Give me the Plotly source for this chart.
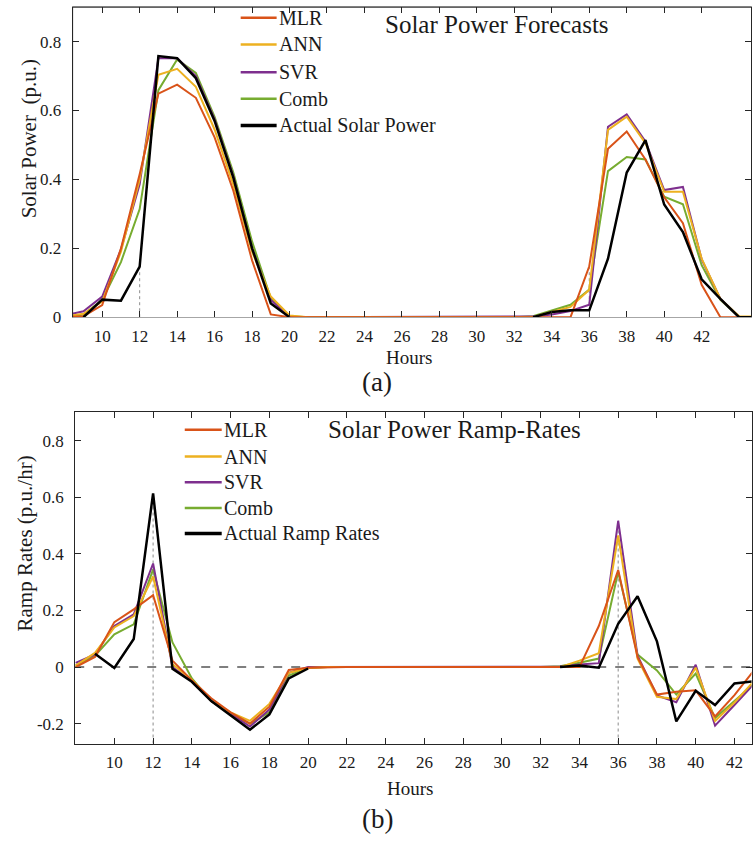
import plotly.graph_objects as go

# ---------------- data ----------------
hours_power = list(range(8, 46))          # 8 .. 45
hours_ramp = list(range(8, 44))           # 8 .. 43
Z13 = [0.0] * 13

series_names = ["MLR", "ANN", "SVR", "Comb"]
series_colors = ["#D95319", "#EDB120", "#7E2F8E", "#77AC30"]

# Solar power forecasts (p.u.), hours 8..45
mlr_power = [0.0, 0.003, 0.035, 0.199, 0.415, 0.649, 0.675, 0.637, 0.522, 0.367, 0.165, 0.008, 0.0] \
    + Z13[:14 - 1] + [0.0, 0.0, 0.148, 0.489, 0.539, 0.458, 0.348, 0.273, 0.094, 0.0, 0.0, 0.0]
ann_power = [0.002, 0.01, 0.045, 0.19, 0.40, 0.704, 0.721, 0.669, 0.545, 0.385, 0.19, 0.06, 0.005] \
    + Z13[:13 - 1] + [0.0, 0.015, 0.03, 0.08, 0.544, 0.582, 0.505, 0.364, 0.364, 0.17, 0.053, 0.003, 0.002]
svr_power = [0.006, 0.017, 0.06, 0.197, 0.386, 0.752, 0.752, 0.70, 0.575, 0.41, 0.20, 0.05, 0.0] \
    + Z13[:13 - 1] + [0.002, 0.008, 0.018, 0.036, 0.553, 0.589, 0.51, 0.369, 0.378, 0.168, 0.053, 0.0, 0.0]
comb_power = [0.0, 0.008, 0.05, 0.16, 0.314, 0.659, 0.748, 0.709, 0.582, 0.42, 0.22, 0.055, 0.003] \
    + Z13[:13 - 1] + [0.003, 0.02, 0.036, 0.08, 0.424, 0.465, 0.458, 0.35, 0.328, 0.151, 0.05, 0.0, 0.0]
actual_power = [None, 0.0, 0.051, 0.048, 0.147, 0.758, 0.752, 0.694, 0.57, 0.405, 0.20, 0.04, 0.0] \
    + [None] * 12 + [0.0, 0.015, 0.02, 0.02, 0.17, 0.42, 0.514, 0.327, 0.247, 0.11, 0.053, 0.0, 0.0]

# Solar power ramp rates (p.u./hr), hours 8..43
mlr_ramp = [0.0, 0.036, 0.159, 0.204, 0.254, 0.023, -0.047, -0.11, -0.16, -0.20, -0.14, -0.01, -0.002] \
    + Z13[:14 - 1] + [0.0, 0.145, 0.343, 0.035, -0.097, -0.087, -0.082, -0.174, -0.099, -0.012]
ann_ramp = [0.005, 0.05, 0.14, 0.18, 0.32, 0.01, -0.045, -0.12, -0.16, -0.19, -0.13, -0.02, -0.003] \
    + Z13[:14 - 1] + [0.023, 0.049, 0.465, 0.03, -0.105, -0.113, -0.002, -0.19, -0.125, -0.05]
svr_ramp = [0.015, 0.045, 0.145, 0.186, 0.366, 0.0, -0.05, -0.12, -0.165, -0.21, -0.15, -0.02, 0.0] \
    + Z13[:13 - 1] + [0.002, 0.009, 0.014, 0.517, 0.04, -0.10, -0.124, 0.008, -0.207, -0.134, -0.06]
comb_ramp = [0.005, 0.04, 0.116, 0.151, 0.345, 0.087, -0.04, -0.12, -0.165, -0.20, -0.16, -0.03, -0.003] \
    + Z13[:13 - 1] + [0.003, 0.015, 0.03, 0.337, 0.044, -0.012, -0.097, -0.023, -0.18, -0.12, -0.06]
actual_ramp = [None, 0.047, -0.003, 0.099, 0.614, -0.006, -0.052, -0.12, -0.17, -0.221, -0.167, -0.04, -0.005] \
    + [None] * 12 + [0.0, 0.006, -0.002, 0.153, 0.25, 0.091, -0.192, -0.084, -0.134, -0.058, -0.05]

x_ticks = list(range(10, 43, 2))
power_ticks = [0, 0.2, 0.4, 0.6, 0.8]
power_tick_text = ["0", "0.2", "0.4", "0.6", "0.8"]
ramp_ticks = [-0.2, 0, 0.2, 0.4, 0.6, 0.8]
ramp_tick_text = ["-0.2", "0", "0.2", "0.4", "0.6", "0.8"]
marked_hours = [12, 36]

# ---------------- figure ----------------
W, H = 753, 845
FONT = "Liberation Serif, Times New Roman, Times, serif"
TXT = "#1a1a1a"


def px(x):
    return x / W


def py(y):
    return 1 - y / H


fig = go.Figure()

power_sets = [mlr_power, ann_power, svr_power, comb_power]
ramp_sets = [mlr_ramp, ann_ramp, svr_ramp, comb_ramp]
draw_order = [3, 2, 1, 0]  # Comb, SVR, ANN, MLR, then actual on top

for i in draw_order:
    fig.add_trace(go.Scatter(x=hours_power, y=power_sets[i], mode="lines", name=series_names[i],
                             line=dict(color=series_colors[i], width=2), xaxis="x", yaxis="y",
                             showlegend=False))
fig.add_trace(go.Scatter(x=hours_power, y=actual_power, mode="lines", name="Actual Solar Power",
                         line=dict(color="black", width=2.5), xaxis="x", yaxis="y", showlegend=False))

for i in draw_order:
    fig.add_trace(go.Scatter(x=hours_ramp, y=ramp_sets[i], mode="lines", name=series_names[i],
                             line=dict(color=series_colors[i], width=2), xaxis="x2", yaxis="y2",
                             showlegend=False))
fig.add_trace(go.Scatter(x=hours_ramp, y=actual_ramp, mode="lines", name="Actual Ramp Rates",
                         line=dict(color="black", width=2.5), xaxis="x2", yaxis="y2", showlegend=False))

shapes = []
annotations = []


# dotted stems at the marked hours: actual value at the first, largest forecast at the second
def stem_tops(sets, actual, hours):
    tops = []
    for k, h in enumerate(marked_hours):
        idx = hours.index(h)
        if k == 0:
            tops.append(actual[idx])
        else:
            tops.append(max(s[idx] for s in sets))
    return tops


for xr, yr, sets, act, hrs, ybot in [("x", "y", power_sets, actual_power, hours_power, 0.0),
                                     ("x2", "y2", ramp_sets, actual_ramp, hours_ramp, -0.27)]:
    for h, top in zip(marked_hours, stem_tops(sets, act, hrs)):
        shapes.append(dict(type="line", xref=xr, yref=yr, x0=h, x1=h, y0=ybot, y1=top,
                           line=dict(color="#8c8c8c", width=1, dash="dot"), layer="below"))

# dashed zero reference in the ramp panel
shapes.append(dict(type="line", xref="x2 domain", yref="y2", x0=0, x1=1, y0=0, y1=0,
                   line=dict(color="#555555", width=1.5, dash="dash"), layer="below"))
# top and left border of the power panel (its bottom edge is drawn light gray)
shapes.append(dict(type="line", xref="x domain", yref="y domain", x0=0, x1=1, y0=1, y1=1,
                   line=dict(color="#262626", width=1), layer="above"))
shapes.append(dict(type="line", xref="x domain", yref="y domain", x0=0, x1=0, y0=0, y1=1,
                   line=dict(color="#262626", width=1), layer="above"))


# legends
def add_legend(x_line0, x_line1, x_text, y_rows, labels):
    colors = series_colors + ["black"]
    for lab, col, yy in zip(labels, colors, y_rows):
        shapes.append(dict(type="line", xref="paper", yref="paper", x0=px(x_line0), x1=px(x_line1),
                           y0=py(yy), y1=py(yy),
                           line=dict(color=col, width=3.5 if col == "black" else 2.5)))
        annotations.append(dict(text=lab, xref="paper", yref="paper", x=px(x_text), y=py(yy),
                                xanchor="left", yanchor="middle", showarrow=False,
                                font=dict(family=FONT, size=20, color=TXT)))


add_legend(241, 277, 277, [18, 45, 73, 100, 127], series_names + ["Actual Solar Power"])
add_legend(185, 222, 222, [435, 462, 488, 514, 540], series_names + ["Actual Ramp Rates"])


def add_text(text, x, y, size, angle=0):
    annotations.append(dict(text=text, xref="paper", yref="paper", x=px(x), y=py(y),
                            xanchor="center", yanchor="middle", showarrow=False, textangle=angle,
                            font=dict(family=FONT, size=size, color=TXT)))


add_text("Solar Power Forecasts", 498, 25, 25)
add_text("Solar Power Ramp-Rates", 455, 435, 25)
add_text("Hours", 410, 362, 19)
add_text("Hours", 411, 798, 19)
add_text("(a)", 378, 387, 27)
add_text("(b)", 378, 829, 27)
add_text("Solar Power  (p.u.)", 29, 140, 21, -90)
add_text("Ramp Rates (p.u./hr)", 26, 550, 21, -90)

tick_font = dict(family=FONT, size=17, color=TXT)
common_x = dict(tickmode="array", tickvals=x_ticks, ticks="inside", ticklen=6, tickcolor="#262626",
                showgrid=False, zeroline=False, showline=True, mirror="ticks",
                tickfont=tick_font, ticklabelstandoff=3)
common_y = dict(ticks="inside", ticklen=6, tickcolor="#262626", showgrid=False, zeroline=False,
                showline=True, mirror="ticks", linecolor="#262626", tickfont=tick_font,
                ticklabelstandoff=7)

fig.update_layout(
    width=W, height=H,
    margin=dict(l=0, r=0, t=0, b=0),
    paper_bgcolor="white", plot_bgcolor="white",
    showlegend=False,
    xaxis=dict(domain=[px(72.7), px(752.3)], range=[8.42, 44.65], anchor="y",
               linecolor="#a6a6a6", **common_x),
    yaxis=dict(domain=[py(321), py(7.3)], range=[0, 0.9], anchor="x",
               tickvals=power_ticks, ticktext=power_tick_text, **common_y),
    xaxis2=dict(domain=[px(75.3), px(752.5)], range=[7.98, 42.88], anchor="y2",
                linecolor="#262626", **common_x),
    yaxis2=dict(domain=[py(752.7), py(417.3)], range=[-0.271, 0.9], anchor="x2",
                tickvals=ramp_ticks, ticktext=ramp_tick_text, **common_y),
    shapes=shapes,
    annotations=annotations,
)

fig.write_html("out.html")
